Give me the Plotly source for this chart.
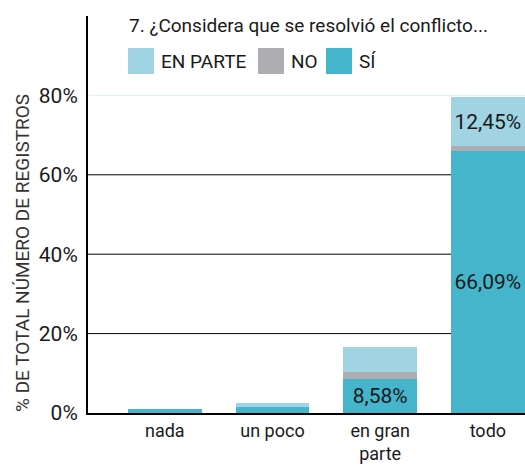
import plotly.graph_objects as go

categories = ["nada", "un poco", "en gran<br>parte", "todo"]
si_vals = [1.0, 1.5, 8.58, 66.09]
no_vals = [0.0, 0.0, 1.8, 1.1]
en_parte_vals = [0.0, 1.0, 6.3, 12.45]
si_labels = ["", "", "8,58%", "66,09%"]
no_labels = ["", "", "", ""]
en_parte_labels = ["", "", "", "12,45%"]
y_ticks = [0, 20, 40, 60, 80]
y_tick_text = ["0%", "20%", "40%", "60%", "80%"]
grid_dark = [20, 40, 60]
grid_light = [80]
title_text = "7. ¿Considera que se resolvió el conflicto..."
y_title = "% DE TOTAL NÚMERO DE REGISTROS"

C_SI = "#44b5cb"
C_NO = "#aeadb2"
C_EP = "#a0d4e2"
FONT = "Roboto, sans-serif"
TXT = "#1a1a1a"

fig = go.Figure()
for name, vals, labels, col in [
    ("SÍ", si_vals, si_labels, C_SI),
    ("NO", no_vals, no_labels, C_NO),
    ("EN PARTE", en_parte_vals, en_parte_labels, C_EP),
]:
    fig.add_trace(go.Bar(
        x=categories, y=vals, name=name, marker=dict(color=col, line=dict(width=0)),
        text=labels, textposition="inside", insidetextanchor="middle",
        textfont=dict(family=FONT, size=21, color=TXT), textangle=0,
        showlegend=False, cliponaxis=False,
    ))

shapes = []
for g in grid_dark:
    shapes.append(dict(type="line", xref="paper", yref="y", x0=0, x1=1, y0=g, y1=g,
                       line=dict(color="black", width=1), layer="below"))
for g in grid_light:
    shapes.append(dict(type="line", xref="paper", yref="y", x0=0, x1=1, y0=g, y1=g,
                       line=dict(color="#dff2f7", width=1), layer="below"))

# custom legend (paper coordinates of the plot area)
W, H = 525, 466
L, R, T, B = 88, 0, 16, 53
pw, ph = W - L - R, H - T - B
def px(xp):
    return (xp - L) / pw
def py(yp):
    return (H - B - yp) / ph

legend_items = [("EN PARTE", C_EP, 128), ("NO", C_NO, 258), ("SÍ", C_SI, 326)]
annotations = []
for lab, col, x0 in legend_items:
    shapes.append(dict(type="rect", xref="paper", yref="paper",
                       x0=px(x0), x1=px(x0 + 26), y0=py(74), y1=py(48),
                       fillcolor=col, line=dict(width=0)))
    annotations.append(dict(text=lab, xref="paper", yref="paper", x=px(x0 + 31), y=py(61),
                            xanchor="left", yanchor="middle", showarrow=False,
                            font=dict(family=FONT, size=19, color=TXT)))
annotations.append(dict(text=title_text, xref="paper", yref="paper", x=px(127), y=py(25),
                        xanchor="left", yanchor="middle", showarrow=False,
                        font=dict(family=FONT, size=19, color=TXT)))
annotations.append(dict(text=y_title, xref="paper", yref="paper", x=px(22), y=py(253),
                        xanchor="center", yanchor="middle", showarrow=False, textangle=-90,
                        font=dict(family=FONT, size=19, color="#333333")))

fig.update_layout(
    width=W, height=H, margin=dict(l=L, r=R, t=T, b=B),
    barmode="stack", bargap=0.315,
    plot_bgcolor="white", paper_bgcolor="white",
    font=dict(family=FONT, color=TXT),
    shapes=shapes, annotations=annotations,
    uniformtext=dict(minsize=8, mode="show"),
)
fig.update_xaxes(range=[-0.713, 3.345], showgrid=False, showline=True, linecolor="black",
                 linewidth=2, ticks="", tickfont=dict(family=FONT, size=18, color=TXT),
                 fixedrange=True)
fig.update_yaxes(range=[0, 100], tickvals=y_ticks, ticktext=y_tick_text, showgrid=False,
                 showline=True, linecolor="black", linewidth=2, ticks="", zeroline=False,
                 tickfont=dict(family=FONT, size=21, color=TXT), ticklabelstandoff=4,
                 fixedrange=True)

fig.write_html("out.html", config={"displayModeBar": False},
               post_script="document.body.style.margin='0px';")
